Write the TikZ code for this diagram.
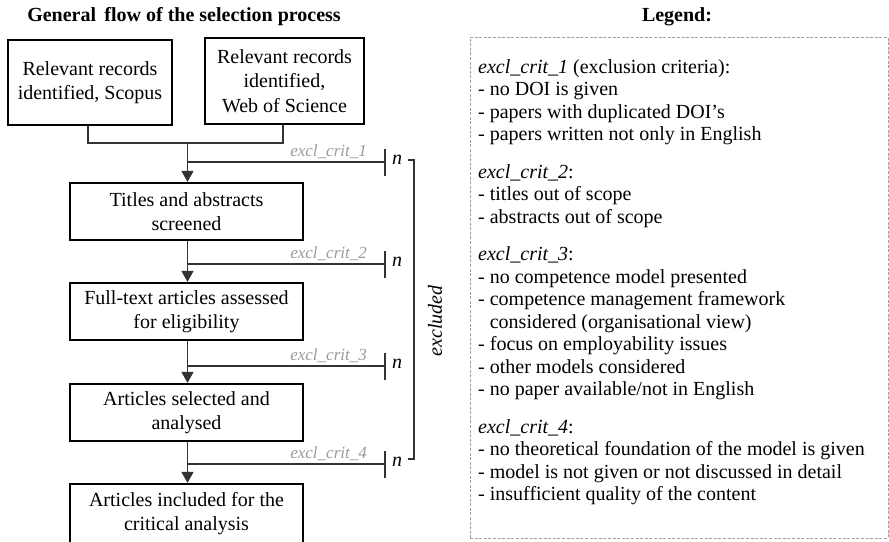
\documentclass[tikz,border=0pt]{standalone}
\usepackage{fontspec}
\setmainfont{Liberation Serif}
\usetikzlibrary{arrows.meta}

\definecolor{linegray}{HTML}{333333}
\definecolor{labelgray}{HTML}{9A9A9A}
\definecolor{framegray}{HTML}{A0A0A0}

\tikzset{
  x=1pt, y=-1pt,
  stepbox/.style={draw=black, line width=2.2pt, inner sep=0pt, align=center,
    font=\fontsize{20}{24.5}\selectfont},
  flow/.style={draw=linegray, line width=1.3pt},
  flowarrow/.style={flow, -{Triangle[length=11pt, width=12pt]}},
  critlabel/.style={text=labelgray, font=\fontsize{17}{20}\selectfont\itshape,
    anchor=base east, inner sep=0pt},
  countlabel/.style={font=\fontsize{20}{24}\selectfont\itshape, inner sep=0pt},
  heading/.style={font=\fontsize{20}{24}\selectfont\bfseries, anchor=base, inner sep=0pt},
  legendline/.style={font=\fontsize{20}{22.5}\selectfont, anchor=base west, inner sep=0pt},
}

\begin{document}
\begin{tikzpicture}
\useasboundingbox (0,0) rectangle (889,541);

% headings
\node[heading] (flowtitle) at (184,21) {General\, flow of the selection process};
\node[heading] (legtitle) at (677,21) {Legend:};

% source boxes
\node[stepbox, minimum width=164pt, minimum height=85pt] (scopus) at (90,82.5)
  {Relevant records\\identified, Scopus};
\node[stepbox, minimum width=159pt, minimum height=86pt] (wos) at (284.5,81)
  {Relevant records\\identified,\\Web of Science};

% screening stages
\node[stepbox, minimum width=233pt, minimum height=57pt] (screen) at (186.5,211.5)
  {Titles and abstracts\\screened};
\node[stepbox, minimum width=233pt, minimum height=57pt] (elig) at (186.5,311.5)
  {Full-text articles assessed\\for eligibility};
\node[stepbox, minimum width=233pt, minimum height=57pt] (sel) at (186.5,412.5)
  {Articles selected and\\analysed};
\node[stepbox, minimum width=233pt, minimum height=59pt] (incl) at (186.5,513.5)
  {Articles included for the\\critical analysis};

% merge of the two sources
\coordinate (join) at (187.5,143);
\coordinate (s1) at ([xshift=-2pt]scopus.south);
\coordinate (s2) at ([xshift=-1.5pt]wos.south);
\draw[flow] (s1) |- (join) -| (s2);
\draw[flowarrow] (join) -- (screen.north -| join);

% flow between stages
\draw[flowarrow] (screen.south -| join) -- (elig.north -| join);
\draw[flowarrow] (elig.south -| join) -- (sel.north -| join);
\draw[flowarrow] (sel.south -| join) -- (incl.north -| join);

% exclusion branches
\foreach \k/\y in {1/162, 2/264, 3/366, 4/464} {
  \coordinate (b\k) at (187.5,\y);
  \coordinate (e\k) at (385,\y);
  \draw[flow] (b\k) -- (e\k);
  \draw[flow] ([yshift=-14pt]e\k) -- ([yshift=13pt]e\k);
  \node[critlabel] (c\k) at (367,{\y-6}) {excl\_crit\_\k};
  \node[countlabel] (n\k) at (397,{\y-2}) {n};
}

% bracket collecting the excluded records
\coordinate (bt) at (408,160);
\coordinate (bb) at (408,459);
\draw[flow, line width=1.1pt] (bt) -- ++(6,0) |- (bb);
\node[countlabel, rotate=90] (excl) at (435,321) {excluded};

% legend frame
\node[draw=framegray, line width=0.8pt, dash pattern=on 3pt off 1.6pt,
  minimum width=418pt, minimum height=501pt, inner sep=0pt] (legend) at (679,287.5) {};

% legend entries
\foreach \t [count=\i] in {
  {\textit{excl\_crit\_1} (exclusion criteria):},
  {- no DOI is given},
  {- papers with duplicated DOI’s},
  {- papers written not only in English},
  {\textit{excl\_crit\_2}:},
  {- titles out of scope},
  {- abstracts out of scope},
  {\textit{excl\_crit\_3}:},
  {- no competence model presented},
  {- competence management framework},
  {\hphantom{- }considered (organisational view)},
  {- focus on employability issues},
  {- other models considered},
  {- no paper available/not in English},
  {\textit{excl\_crit\_4}:},
  {- no theoretical foundation of the model is given},
  {- model is not given or not discussed in detail},
  {- insufficient quality of the content}} {
  \pgfmathsetmacro{\yy}{73 + 22.5*(\i-1) + 15*((\i>4) + (\i>7) + (\i>14))}
  \node[legendline] (leg\i) at (478,\yy) {\t};
}
\end{tikzpicture}
\end{document}
